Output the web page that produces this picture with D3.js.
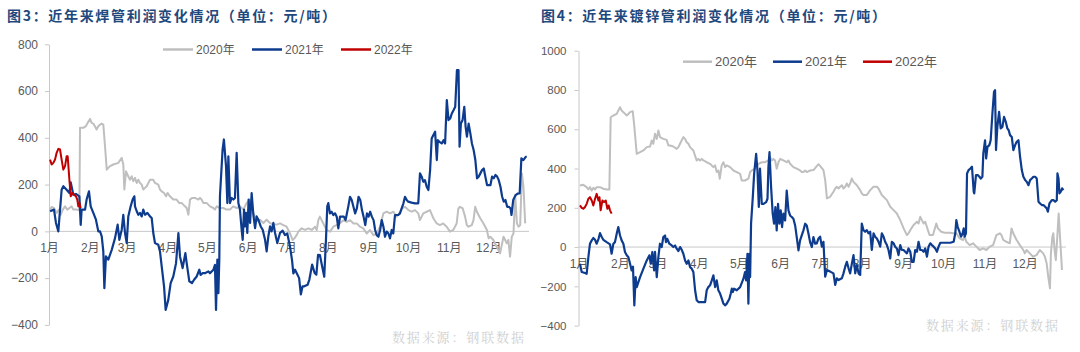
<!DOCTYPE html>
<html><head><meta charset="utf-8">
<script src="https://cdn.jsdelivr.net/npm/d3@7"></script>
<style>body{margin:0;background:#fff;} svg{display:block;}</style>
</head><body>
<svg id="c" width="1080" height="352"></svg>
<script>
// ---- data ----
const monthLabels = ["1月","2月","3月","4月","5月","6月","7月","8月","9月","10月","11月","12月"];
const monthStarts = [0,31,59,90,120,151,181,212,243,273,304,334];
const seriesNames = ["2020年","2021年","2022年"];
const weldTicks = [-400,-200,0,200,400,600,800];
const galvTicks = [-400,-200,0,200,400,600,800,1000];
const weldTitle = "图3：近年来焊管利润变化情况（单位：元/吨）";
const galvTitle = "图4：近年来镀锌管利润变化情况（单位：元/吨）";
const sourceText = "数据来源：钢联数据";

// [day of year, profit yuan/ton]
const weld2020 = [[0.8,93],[2,104],[3.8,100],[5.8,79],[7.6,93],[8.9,71],[10.5,93],[12.2,107],[13.9,93],[15.5,100],[17.2,107],[18.5,93],[21,93],[23.1,90],[23.6,443],[26.1,443],[28.1,450],[29.4,464],[31.2,481],[32.4,464],[33.7,461],[36.2,436],[37.5,450],[40,461],[41.3,457],[42.6,364],[43.9,264],[46.4,279],[48.9,286],[52.7,293],[55.3,314],[56.5,286],[57.3,179],[58.6,257],[59.6,243],[61.6,221],[62.9,236],[64.1,214],[65.4,229],[66.7,207],[67.9,221],[69.2,207],[70.5,200],[71.7,179],[73,186],[74.3,193],[76.8,221],[79.3,221],[80.6,207],[83.1,200],[84.4,179],[85.7,171],[87.5,164],[89,150],[90.2,164],[92,150],[94.5,136],[97,136],[99.1,121],[101,121],[103.4,107],[104.7,100],[106,71],[107.2,136],[109,143],[111,143],[113.6,136],[114.8,143],[116,136],[117.4,121],[120,121],[122.4,107],[125,100],[126.2,93],[127.5,107],[130,100],[132.5,100],[135.1,93],[137.6,93],[140,107],[142.7,100],[145.2,107],[147.8,93],[150.3,121],[152.9,136],[155.4,79],[157.9,43],[160.5,50],[163,36],[165.5,50],[168,36],[170.6,29],[173,29],[175.7,34],[178.2,27],[180.7,20],[183.3,-9],[185.3,-37],[186.6,-30],[188.3,-16],[189.6,-1],[192.1,13],[194.7,6],[197.3,13],[199.8,6],[202.3,20],[203.6,6],[204.8,48],[206,63],[207.3,48],[208.6,34],[211.1,6],[213.7,-1],[216.2,20],[218.7,27],[221.3,34],[223.8,48],[226.4,41],[228.9,48],[231.5,34],[234,34],[236.5,20],[239,13],[241.6,-9],[244.1,6],[246.7,-16],[249.2,-9],[251.7,20],[254.3,77],[256.8,84],[259.3,77],[261.9,84],[264.4,63],[267,84],[268.2,98],[270.7,105],[273.3,91],[275.8,84],[278.3,91],[280.8,77],[282.1,48],[284.6,77],[287.2,84],[289.7,91],[292.3,56],[294.8,34],[297.3,27],[299.8,34],[302.4,20],[304.9,-1],[307.4,6],[310,34],[311.3,98],[312.6,105],[314.6,98],[316.4,63],[317.7,27],[319,20],[321.5,27],[322.8,48],[324.1,105],[325.4,84],[327.9,56],[330.4,34],[333,6],[334.3,-30],[335.6,-23],[337.9,-37],[340.4,-66],[343,-94],[344.3,-58],[345.6,-23],[348.1,-51],[349.3,-37],[350.6,-108],[351.9,-23],[353.2,-9],[354.5,155],[355.8,34],[357,20],[358.3,27],[359.6,248],[360.8,191],[362.1,34]];
const weld2021 = [[0.8,86],[3.8,93],[5.3,36],[7.1,0],[9.6,178],[10.9,193],[13.4,178],[15.5,164],[16.5,210],[18.5,157],[20.5,160],[23.1,150],[24.1,28],[24.8,93],[27.4,93],[28.6,136],[30.4,171],[31.7,107],[33.7,79],[35.7,50],[37.5,0],[38.8,0],[40.1,-21],[41.3,-86],[42.1,-243],[43.3,-107],[45.1,-121],[47.7,-79],[50.2,-29],[52.2,29],[53.5,-36],[55.3,7],[56.5,71],[57.8,-7],[59.1,-50],[60.3,64],[62.1,107],[63.6,136],[64.9,150],[65.4,107],[66.7,86],[67.9,71],[69.2,79],[70.5,64],[71.7,93],[73,71],[74.8,79],[76.8,64],[78.1,57],[79.3,-7],[80.6,-50],[83.1,-57],[84.4,-86],[85.7,-150],[87.5,-236],[88.7,-336],[90.7,-293],[92.5,-221],[94.5,-193],[96.6,-136],[98.4,-7],[99.6,-107],[101.6,-157],[103.7,-93],[104.7,-136],[106.7,-214],[108.7,-221],[110.3,-207],[112.3,-193],[114.3,-164],[115.3,-186],[116.9,-179],[118.6,-179],[121.2,-171],[122.4,-179],[125,-164],[126.2,-143],[127,-336],[128,-121],[128.8,-264],[129.5,-121],[130,150],[132,350],[133,393],[134.6,279],[135.6,121],[136.4,321],[137.6,121],[138.9,143],[140.2,136],[141.4,143],[142.7,336],[144,121],[145.2,93],[146.5,7],[147.3,-36],[148.3,93],[149,21],[149.8,79],[150.8,-7],[151.8,136],[152.9,36],[154.1,164],[155.4,71],[156.7,14],[157.9,64],[159.2,50],[161,21],[162.5,7],[164.3,-36],[165.5,-86],[166.8,-21],[168.1,21],[169.3,0],[170.6,36],[171.9,-7],[173.6,-50],[175.7,-6],[177.7,3],[179.4,-16],[181.2,-9],[183.3,-66],[184.8,-123],[185.8,-180],[187.1,-164],[188.3,-178],[190.2,-200],[191.5,-270],[192.8,-235],[194.1,-235],[196.7,-228],[198,-206],[200.1,-142],[202,-178],[203.3,-185],[204.6,-100],[206,-101],[207,-130],[209.3,-194],[210.6,-37],[211.6,107],[212.4,121],[213.6,77],[214.9,84],[216.2,70],[217.5,77],[218.8,63],[220,13],[221.3,63],[222.6,63],[224.2,63],[225.5,48],[227.6,107],[228.9,148],[230.2,134],[231.5,105],[232.8,77],[234.1,98],[235.4,148],[236.7,134],[238,91],[239.2,63],[240.5,27],[241.8,77],[243,63],[244.2,84],[245.5,63],[246.8,48],[248,6],[249.2,-16],[250.5,-23],[251.8,6],[253,48],[254.3,20],[255.5,-23],[256.8,-1],[258.1,-9],[259.3,-30],[260.6,6],[261.8,-9],[263.1,70],[264.4,70],[265.6,70],[266.9,77],[268.2,98],[269.5,120],[270.7,148],[272,134],[273.2,127],[275.7,123],[278.3,120],[280.8,120],[282.1,248],[283.4,234],[284.6,212],[285.9,219],[287.2,191],[288.5,177],[289.8,262],[291,397],[292.3,412],[293.6,426],[294.9,305],[295.7,390],[296.9,383],[298.7,376],[300,390],[301.2,376],[302.5,561],[303.8,476],[305.1,483],[306.3,504],[307.6,518],[308.9,533],[310.2,690],[311.4,690],[312.2,362],[313.2,461],[314.5,476],[315.8,533],[316.8,447],[317.8,405],[319.1,461],[320.4,419],[321.6,376],[322.9,348],[324.2,305],[325.5,227],[326.7,234],[328,248],[329.3,262],[330.6,269],[331.8,234],[333.1,198],[334.4,198],[335.7,198],[336.9,234],[338.2,227],[339.5,241],[340.8,234],[342,219],[343.3,191],[344.6,148],[345.8,127],[347.1,134],[348.4,105],[349.7,105],[351,98],[351.7,70],[353,134],[354.8,155],[356.6,162],[357.9,162],[359.2,312],[360.7,305],[362.5,319],[363.3,319]];
const weld2022 = [[0.8,307],[2,286],[3.3,293],[4.6,307],[5.8,336],[7.1,353],[8.4,350],[9.6,307],[10.9,264],[12.2,279],[13.4,321],[14.2,321],[15.5,221],[16.5,150],[17.7,164],[19,157],[20.5,150],[21.5,136],[22.3,107],[23.1,121],[24.1,100]];

const galv2020 = [[1.1,314],[3.6,317],[6.1,305],[7.4,293],[8.6,305],[9.9,288],[11.1,302],[12.4,293],[13.6,305],[16.1,305],[18.6,297],[21.1,293],[23.1,293],[24.1,661],[26.1,670],[28.6,678],[29.8,695],[31.1,712],[32.3,695],[33.6,687],[36.1,670],[37.3,678],[38.6,687],[40.6,692],[41.6,628],[43.6,475],[46.1,483],[48.6,492],[51.1,509],[53.6,512],[54.8,543],[56,526],[57.3,577],[58.6,551],[59.8,594],[61,560],[63.5,551],[66,546],[67.3,517],[68.5,517],[71,512],[73.5,500],[74.8,509],[76,526],[78.5,560],[79.8,551],[81,534],[82.3,526],[83.5,509],[86,492],[86.8,475],[88.5,441],[89.8,449],[91,441],[92.3,449],[93.5,441],[96,432],[98.5,424],[101,407],[102.3,416],[103.5,382],[104.8,390],[105.8,348],[107.2,416],[108.5,432],[109.8,407],[111,416],[113.5,407],[116,390],[118.5,382],[121,373],[122.2,339],[124.7,339],[127.2,348],[128.5,382],[129.8,390],[132.2,399],[134.7,424],[137.2,432],[139.7,432],[142.2,441],[143.4,458],[144.7,441],[146,449],[147.2,441],[148.4,399],[149.7,432],[151,449],[153.4,441],[155.9,432],[157.2,441],[158.4,424],[160.9,407],[163.4,399],[165.9,390],[167.2,382],[168.4,382],[169.7,390],[170.9,382],[173.4,390],[175.9,392],[178.4,412],[179.7,422],[181,412],[183.4,392],[184.7,341],[186,248],[188.4,256],[190.9,282],[192.2,298],[193.4,307],[194.7,298],[195.9,307],[197.2,315],[198.4,298],[199.7,307],[200.9,324],[202.2,307],[203.4,324],[204.6,349],[205.9,332],[208.4,315],[210.9,290],[212.1,273],[213.4,265],[215.9,265],[218.4,290],[220.9,307],[223.4,307],[224.6,298],[227.1,265],[228.4,256],[230.9,239],[233.4,205],[235.9,188],[238.4,171],[239.6,154],[240.9,137],[243.4,95],[245.9,61],[247.1,70],[248.4,86],[250.9,112],[253.4,129],[254.6,120],[255.9,154],[257.1,137],[258.4,120],[259.6,129],[261.6,86],[262.9,61],[265.4,61],[267.9,120],[269.1,95],[271.6,78],[274.1,73],[277.9,73],[280.4,70],[282.9,70],[285.4,44],[287.9,36],[289.1,53],[290.4,27],[292.9,10],[295.4,19],[297.9,2],[300.4,-15],[302.9,-7],[305.4,-15],[307.9,2],[310.4,10],[312.9,61],[315.4,70],[316.7,61],[318,36],[320.4,27],[322.9,19],[324.2,95],[325.5,70],[328,36],[330.5,10],[333,-15],[334.2,-32],[335.5,-15],[337.9,-32],[340.4,-49],[342.9,-41],[345.4,-15],[347.9,-32],[349.2,-49],[350.5,-83],[351.7,-151],[353,-210],[353.7,-32],[354.8,53],[355.5,70],[356.7,-32],[357.4,-66],[358.5,53],[359.5,171],[360.5,53],[362,-117]];
const galv2021 = [[1.1,-85],[2.4,-127],[4.9,-132],[6.1,-136],[7.4,-51],[8.6,17],[9.9,34],[11.1,46],[12.4,37],[13.6,17],[15,42],[16.1,71],[17.4,51],[18.6,37],[21.1,25],[23.6,14],[24.8,-34],[26.1,17],[27.3,25],[28.6,68],[29.8,102],[31.1,59],[32.3,34],[33.6,17],[34.8,-25],[36.1,-42],[37.3,-51],[38.6,-85],[39.8,-119],[40.8,-100],[41.8,-297],[42.8,-153],[43.6,-204],[46.1,-153],[48.6,-110],[51.1,-68],[53.1,-42],[54.1,-85],[55.3,-25],[56.6,-119],[57.3,-25],[58.6,-153],[59.8,-51],[61,17],[62.3,0],[63.5,51],[64.8,59],[65.5,25],[66.5,42],[68,17],[69.8,8],[71,0],[72.3,8],[73.5,-8],[74.8,-20],[76.1,0],[77.3,-14],[78.5,-34],[79.8,-68],[81,-85],[82.3,-68],[83.5,-102],[84.8,-110],[86,-127],[87.3,-220],[88.5,-271],[89.8,-280],[92.3,-280],[94.8,-280],[96,-220],[97.2,-204],[98.5,-195],[99.8,-170],[101,-144],[102.3,-204],[103.5,-170],[104.7,-220],[106,-237],[107.3,-263],[108.5,-288],[109.7,-297],[111,-288],[113,-263],[114,-237],[114.8,-212],[115.5,-229],[116.5,-212],[118.5,-220],[121,-204],[123.5,-161],[124.7,-127],[125.5,-170],[126.5,-34],[127.2,-288],[128,-34],[128.5,-153],[129.2,119],[130.5,254],[131.5,373],[133,475],[134,390],[135,204],[135.9,399],[137.2,220],[138.5,220],[140.5,229],[141.5,246],[142.2,407],[143,483],[144.2,305],[145.4,170],[146.4,119],[147.4,204],[148.4,85],[149.4,220],[150.4,119],[151.4,187],[152.4,102],[153.4,170],[154.7,136],[155.9,288],[157.2,187],[158.4,161],[159.7,153],[160.9,144],[162.2,110],[163.4,51],[164.7,-17],[165.9,34],[168.4,85],[169.7,119],[170.9,110],[172.2,68],[173.4,25],[174.7,0],[175.9,51],[177.2,17],[178.4,19],[179.7,44],[180.9,53],[182.2,2],[183.4,27],[184.7,-151],[186,-117],[188.4,-125],[190.9,-134],[192.2,-193],[193.4,-159],[194.7,-168],[197.2,-159],[198.4,-134],[199.7,-100],[200.9,-75],[202.2,-108],[203.4,-134],[204.7,-83],[205.9,-41],[207.2,-134],[208.4,-92],[209.7,-134],[210.9,-142],[212.1,120],[213.4,86],[214.6,78],[215.9,86],[217.1,70],[218.4,78],[219.6,-15],[220.9,70],[222.1,53],[223.4,44],[224.6,27],[225.9,2],[227.1,70],[228.4,53],[229.6,27],[230.9,10],[232.1,-15],[233.4,-58],[234.6,27],[235.9,19],[237.1,2],[238.4,-7],[239.6,-41],[240.9,10],[242.1,-15],[243.4,-15],[244.6,-24],[245.9,-32],[247.1,-7],[248.4,-24],[249.6,-75],[250.9,-75],[252.1,-15],[253.4,-24],[254.6,27],[255.9,-15],[257.1,-15],[258.4,-24],[259.6,-7],[260.9,-49],[262.1,2],[263.4,19],[264.6,10],[265.9,2],[267.1,-7],[268.4,-24],[269.6,2],[270.9,22],[273.4,22],[275.9,22],[278.4,22],[280.9,27],[282.1,70],[282.9,137],[283.9,103],[285.2,78],[286.4,53],[287.6,70],[288.4,95],[289.1,53],[290.1,70],[290.9,375],[292.1,392],[293.4,400],[294.6,409],[295.9,282],[296.3,273],[297.6,366],[298.9,366],[300.2,358],[301.2,349],[302.4,358],[303.1,477],[304.4,544],[305.2,451],[306.2,510],[307.6,519],[308.6,544],[309.9,680],[311.1,790],[311.9,799],[312.6,494],[313.6,612],[314.9,689],[316.1,604],[317.4,612],[318.6,663],[319.9,638],[321.1,604],[322.1,595],[323.1,570],[324.4,561],[325.6,494],[326.9,519],[328.1,536],[329.4,544],[330.6,460],[331.9,392],[333.1,358],[334.4,341],[335.6,332],[336.9,315],[338.1,341],[339.4,349],[340.6,358],[341.9,358],[343.1,349],[344.4,231],[345.6,222],[346.9,214],[348.1,214],[349.4,205],[350.6,197],[351.4,180],[352.6,222],[354.4,239],[355.6,239],[356.9,231],[358.1,239],[358.6,375],[359.4,349],[360.1,273],[361.1,282],[362.1,299],[363.1,290]];
const galv2022 = [[1.1,212],[2.4,200],[3.6,195],[4.9,204],[6.1,220],[7.4,246],[8.6,254],[9.9,237],[11.1,212],[12.4,246],[13.6,271],[14.9,237],[15.7,254],[16.6,187],[17.9,237],[19.1,229],[20.4,237],[21.6,195],[22.6,212],[23.6,187],[24.8,170]];

// ---- style ----
const colors = ["#BFBFBF", "#0D3B8E", "#C00000"];
const widths = [2, 2.2, 2];
const axisColor = "#C8C8C8";
const labelColor = "#595959";
const latin = "'Liberation Sans', Arial, 'Noto Sans CJK SC', sans-serif";

const svg = d3.select("#c");

function drawPanel(p) {
  const g = svg.append("g");
  const x = d3.scaleLinear().domain([0, 365]).range([p.x0, p.x1]);
  const y = d3.scaleLinear().domain(p.yDomain).range(p.yRange);

  // title
  g.append("text").attr("x", p.titleX).attr("y", 21)
    .attr("textLength", p.titleW).attr("lengthAdjust", "spacing")
    .style("font-family", "'Noto Sans CJK SC', sans-serif")
    .style("font-size", "14px").style("font-weight", "700")
    .style("fill", "#1F497D").text(p.title);

  // y axis
  const ya = g.append("g").attr("transform", `translate(${p.x0},0)`)
    .call(d3.axisLeft(y).tickValues(p.ticks).tickSize(4).tickSizeOuter(0).tickPadding(p.tickPad).tickFormat(d3.format("d")));
  ya.select(".domain").attr("stroke", axisColor);
  ya.selectAll(".tick line").attr("stroke", axisColor);
  ya.selectAll(".tick text").style("font-family", latin).style("font-size", p.yFont + "px").style("fill", labelColor);

  // zero line
  g.append("line").attr("x1", p.x0).attr("x2", p.x1).attr("y1", y(0)).attr("y2", y(0))
    .attr("stroke", axisColor).attr("stroke-width", 1);

  // x labels
  const xa = g.append("g").attr("transform", `translate(0,${y(0)})`)
    .call(d3.axisBottom(x).tickValues(monthStarts).tickSize(0).tickPadding(p.xPad)
      .tickFormat((d, i) => monthLabels[i]));
  xa.select(".domain").remove();
  xa.selectAll(".tick text").style("font-family", latin).style("font-size", p.xFont + "px").style("fill", labelColor);

  // lines
  const line = d3.line().x(d => x(d[0])).y(d => y(d[1]));
  p.series.forEach((s, i) => {
    g.append("path").datum(s).attr("d", line).attr("fill", "none")
      .attr("stroke", colors[i]).attr("stroke-width", widths[i])
      .attr("stroke-linejoin", "round");
  });

  // legend
  seriesNames.forEach((n, i) => {
    const lx = p.legX + i * p.legStep;
    g.append("line").attr("x1", lx).attr("x2", lx + p.legLen).attr("y1", p.legY).attr("y2", p.legY)
      .attr("stroke", colors[i]).attr("stroke-width", 2.5);
    g.append("text").attr("x", lx + p.legLen + 3).attr("y", p.legY + 4.5)
      .style("font-family", latin).style("font-size", p.legFont + "px").style("fill", labelColor).text(n);
  });

  // source
  g.append("text").attr("x", p.srcX).attr("y", p.srcY)
    .attr("textLength", 132).attr("lengthAdjust", "spacing")
    .style("font-family", "'Noto Serif CJK SC', 'Noto Sans CJK SC', serif")
    .style("font-size", "13px").style("fill", "#CFCFCF").text(sourceText);
}

drawPanel({
  title: weldTitle, titleX: 7, titleW: 329,
  x0: 49, x1: 529, yDomain: [-400, 800], yRange: [324.9, 44.3], ticks: weldTicks,
  tickPad: 7, yFont: 12, xPad: 12, xFont: 12,
  series: [weld2020, weld2021, weld2022],
  legX: 163, legStep: 89, legLen: 30, legY: 49.5, legFont: 12,
  srcX: 392, srcY: 342
});
drawPanel({
  title: galvTitle, titleX: 541, titleW: 345,
  x0: 578.5, x1: 1066, yDomain: [-400, 1000], yRange: [325.6, 50.7], ticks: galvTicks,
  tickPad: 8, yFont: 11.5, xPad: 12, xFont: 12,
  series: [galv2020, galv2021, galv2022],
  legX: 683, legStep: 90, legLen: 29, legY: 61.7, legFont: 13,
  srcX: 926, srcY: 330
});
</script>
</body></html>
